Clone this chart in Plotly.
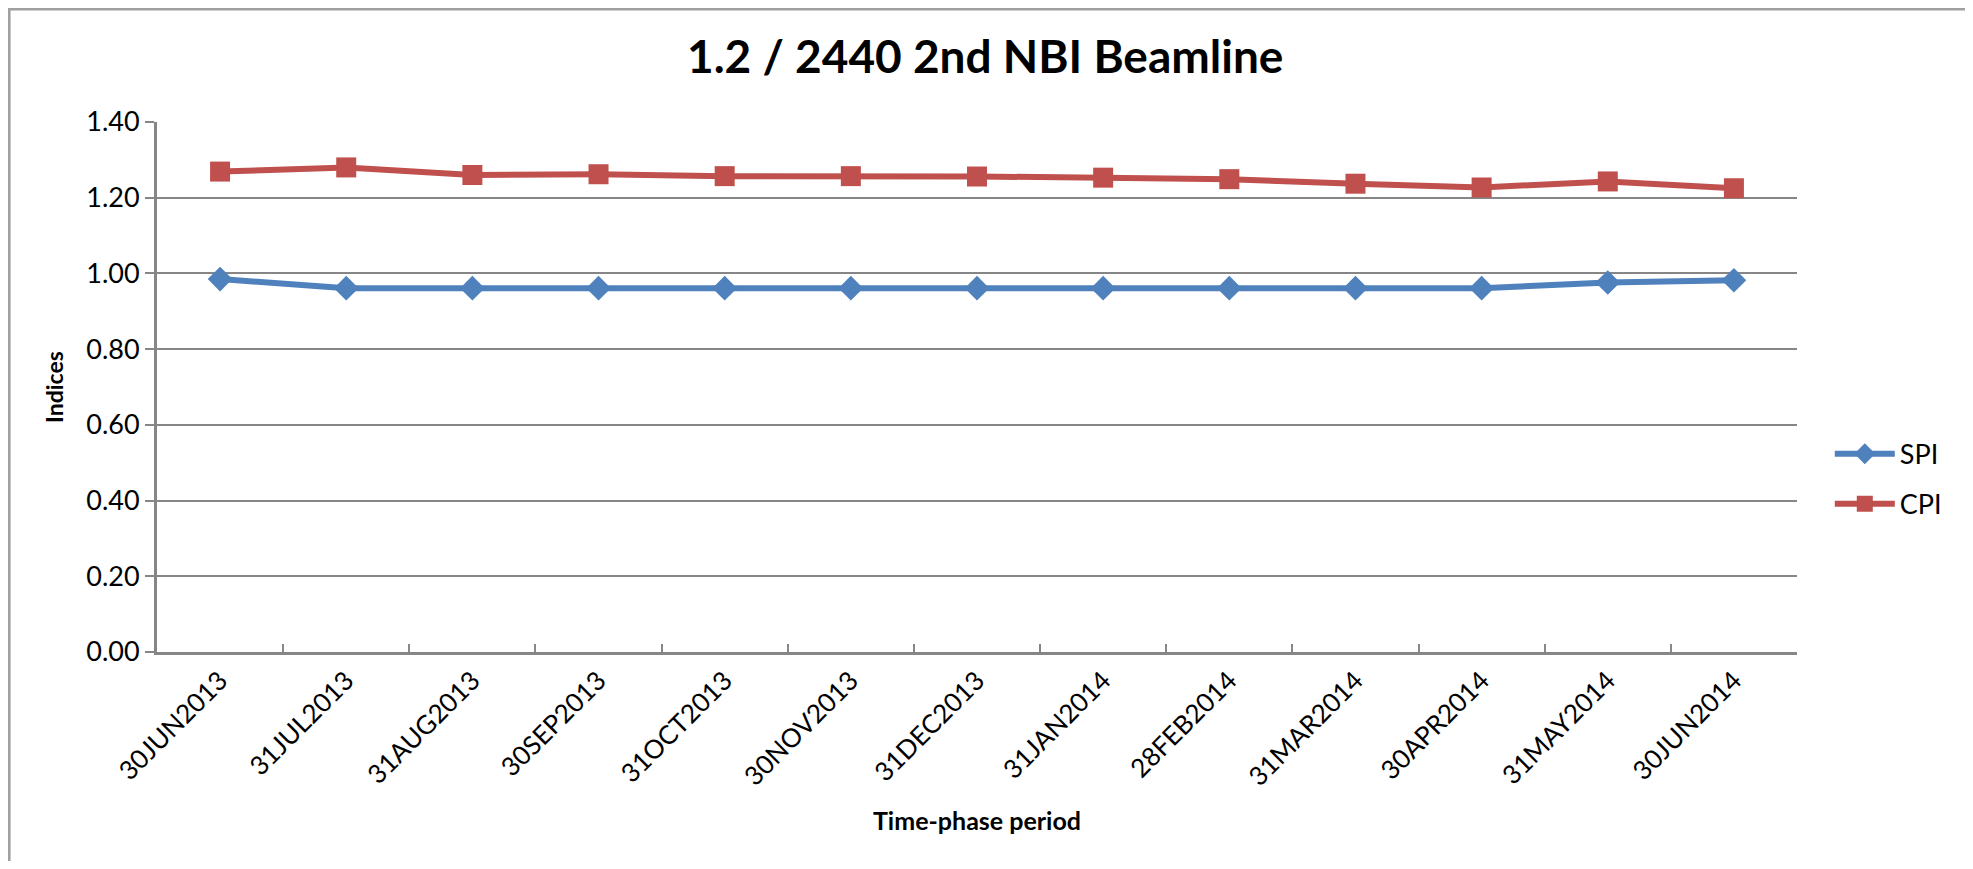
import plotly.graph_objects as go

periodos = ['30JUN2013', '31JUL2013', '31AUG2013', '30SEP2013', '31OCT2013',
            '30NOV2013', '31DEC2013', '31JAN2014', '28FEB2014', '31MAR2014',
            '30APR2014', '31MAY2014', '30JUN2014']
spi = [0.985, 0.961, 0.961, 0.961, 0.961, 0.961, 0.961, 0.961, 0.961, 0.961, 0.961, 0.976, 0.982]
cpi = [1.269, 1.280, 1.260, 1.262, 1.257, 1.257, 1.256, 1.253, 1.249, 1.237, 1.227, 1.243, 1.225]

fonte = 'Lato'
cinza = '#868686'

fig = go.Figure()
fig.add_trace(go.Scatter(
    name='SPI', x=periodos, y=spi, mode='lines+markers', legendgroup='spi',
    line=dict(color='#4F81BD', width=6),
    marker=dict(symbol='diamond', size=19, color='#4F81BD')
))
fig.add_trace(go.Scatter(
    name='CPI', x=periodos, y=cpi, mode='lines+markers', legendgroup='cpi',
    line=dict(color='#C0504D', width=6),
    marker=dict(symbol='square', size=20, color='#C0504D')
))

fig.update_layout(
    width=1965, height=853,
    margin=dict(l=149, r=176, t=114, b=209),
    paper_bgcolor='white', plot_bgcolor='white',
    font=dict(family=fonte, color='black'),
    title=dict(text='<b>1.2 / 2440 2nd NBI Beamline</b>', x=0.505, xref='paper',
               y=0.943, yanchor='middle', font=dict(size=46, family=fonte)),
    xaxis=dict(
        type='category', range=[-0.5, 12.5], tickangle=-45,
        tickson='boundaries', ticks='inside', ticklen=8, tickcolor=cinza, tickwidth=2,
        showline=True, linecolor=cinza, linewidth=3, showgrid=False,
        tickfont=dict(size=26, family=fonte),
        title=dict(text='<b>Time-phase period</b>', font=dict(size=25, family=fonte), standoff=22)
    ),
    yaxis=dict(
        range=[0, 1.4], dtick=0.2, tickformat='.2f',
        ticks='outside', ticklen=9, tickcolor=cinza, tickwidth=2,
        showline=True, linecolor=cinza, linewidth=3,
        showgrid=True, gridcolor=cinza, gridwidth=2, zeroline=False,
        tickfont=dict(size=27, family=fonte),
        title=dict(text='<b>Indices</b>', font=dict(size=23, family=fonte), standoff=17)
    ),
    legend=dict(x=1.02, y=0.326, xanchor='left', yanchor='middle',
                font=dict(size=27, family=fonte), tracegroupgap=12, itemwidth=60),
    shapes=[dict(type='rect', xref='paper', yref='paper',
                 x0=-0.0902, x1=1.1043, y0=-0.5, y1=1.2132,
                 line=dict(color='#A0A0A0', width=3), layer='below')]
)

fig.write_html('out.html')
